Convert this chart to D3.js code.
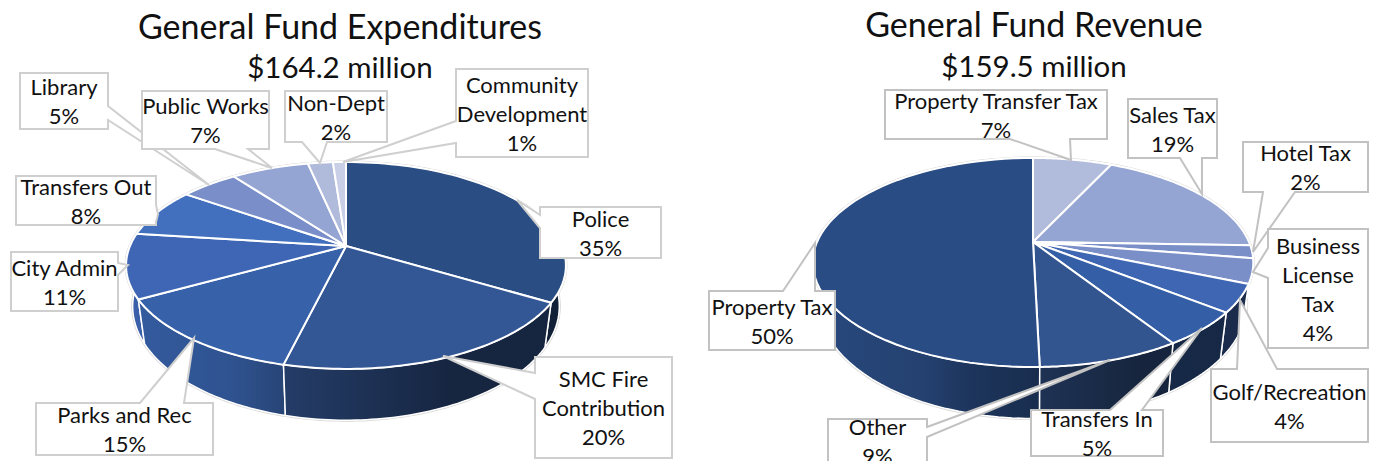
<!DOCTYPE html>
<html>
<head>
<meta charset="utf-8">
<script src="https://cdn.jsdelivr.net/npm/d3@7"></script>
<style>
  html, body { margin: 0; background: #fff; overflow: hidden; }
  text { font-family: Lato, "Open Sans", sans-serif; fill: #111; }
</style>
</head>
<body>
<svg id="chart" width="1376" height="461"></svg>
<script>
const expNames = ["Police", "SMC Fire|Contribution", "Parks and Rec", "City Admin", "Transfers Out", "Library", "Public Works", "Non-Dept", "Community|Development"];
const expShares = [33.6, 20.2, 13.1, 10.1, 7.7, 5.1, 6.85, 2.2, 1.15];
const expPercents = [35, 20, 15, 11, 8, 5, 7, 2, 1];

const revNames = ["Property Transfer Tax", "Sales Tax", "Hotel Tax", "Business|License|Tax", "Golf/Recreation", "Transfers In", "Other", "Property Tax"];
const revShares = [7, 18.5, 2, 3.8, 4.3, 5.3, 8.7, 50.4];
const revPercents = [7, 19, 2, 4, 4, 5, 9, 50];

// layout and colours, kept apart from the values
const expColors = ["#2a4d84", "#335695", "#3761a8", "#3e66b4", "#4270be", "#7a8fc9", "#94a5d4", "#b0bbdc", "#c8cfe6"];
const revColors = ["#b1bbdc", "#94a5d4", "#7a8fc8", "#7a8fc8", "#3e66b2", "#345fa6", "#33558f", "#2a4c84"];

// box: x0,y0,x1,y1 / base: two points on the box edge / tip: where the pointer lands
const expBoxes = [
  { box: [540, 207, 661, 258], base: [[540, 228], [540, 215]], side: "left", tip: [517, 200] },
  { box: [535, 357, 672, 458], base: [[535, 399], [535, 373]], side: "left", tip: [443, 356] },
  { box: [36, 403, 213, 455], base: [[140, 403], [184, 403]], side: "top", tip: [194, 338] },
  { box: [11, 252, 118, 311], base: [[118, 263], [118, 275]], side: "right", tip: [128, 265] },
  { box: [16, 176, 156, 225], base: [[156, 205], [156, 222]], side: "right", tip: [158, 214] },
  { box: [20, 73, 108, 129], base: [[108, 106], [108, 120]], side: "right", tip: [209, 185] },
  { box: [142, 91, 269, 149], base: [[248, 149], [215, 149]], side: "bottom", tip: [272, 168] },
  { box: [285, 91, 387, 142], base: [[327, 142], [302, 142]], side: "bottom", tip: [320, 163] },
  { box: [456, 69, 588, 157], base: [[456, 143], [456, 121]], side: "left", tip: [343, 162] }
];
const revBoxes = [
  { box: [885, 90, 1107, 139], base: [[1070, 139], [1010, 139]], side: "bottom", tip: [1071, 160] },
  { box: [1128, 99, 1217, 158], base: [[1202, 158], [1180, 158]], side: "bottom", tip: [1202, 194] },
  { box: [1243, 142, 1368, 192], base: [[1295, 192], [1263, 192]], side: "bottom", tip: [1253, 252] },
  { box: [1268, 229, 1368, 348], base: [[1268, 278], [1268, 248]], side: "left", tip: [1253, 272] },
  { box: [1211, 369, 1368, 442], base: [[1237, 369], [1277, 369]], side: "top", tip: [1240, 300] },
  { box: [1031, 410, 1163, 456], base: [[1110, 410], [1142, 410]], side: "top", tip: [1202, 328] },
  { box: [828, 419, 927, 463], base: [[927, 427], [927, 437]], side: "right", tip: [1110, 360] },
  { box: [709, 291, 835, 350], base: [[783, 291], [815, 291]], side: "top", tip: [815, 243] }
];

const svg = d3.select("#chart");
const defs = svg.append("defs");

const pie = d3.pie().sort(null).value(d => d);
const pathLine = d3.line();

// wall brightness from the left edge of the pie to the right
const shade = d3.scaleLinear()
  .domain([0, .25, .36, .5, .75, 1])
  .range([.95, .85, .7, .6, .43, .42]);

function drawPie(opt) {
  const { id, cx, cy, A, B, k, names, shares, percents, colors, boxes, stroke } = opt;

  // perspective view of a flat disc, the apex sits above the middle of the ellipse
  const project = (a, sx = 1, sy = 1, dy = 0) => {
    const u = Math.sin(a), v = Math.cos(a), w = 1 + k * v;
    return [cx + sx * A * u / w, cy + dy - sy * B * v / w];
  };
  const top = a => project(a);
  const bottom = a => project(a, .97, 1.1, 39);

  const arcs = pie(shares);
  const sweep = d => d3.range(0, 1.0001, 1 / 60).map(t => d.startAngle + t * (d.endAngle - d.startAngle));

  const left = cx - A * 1.02, right = cx + A * 1.02;

  arcs.forEach((d, i) => {
    const grad = defs.append("linearGradient")
      .attr("id", `${id}-wall-${i}`)
      .attr("gradientUnits", "userSpaceOnUse")
      .attr("x1", left).attr("x2", right).attr("y1", 0).attr("y2", 0);
    shade.domain().forEach(t => {
      grad.append("stop")
        .attr("offset", t)
        .attr("stop-color", d3.rgb(colors[i]).darker(Math.log(shade(t)) / Math.log(.7)));
    });
  });

  const g = svg.append("g");

  // faint halo round the whole solid
  const whole = d3.range(0, 2 * Math.PI, .02);
  g.append("path")
    .attr("d", pathLine(whole.map(top)) + "Z")
    .attr("fill", "none").attr("stroke", "#d8d8d8").attr("stroke-width", 3);
  g.append("path")
    .attr("d", pathLine(whole.map(bottom)) + "Z")
    .attr("fill", "none").attr("stroke", "#d8d8d8").attr("stroke-width", 3);

  // side walls, far ones first
  const order = d3.range(arcs.length).sort((a, b) =>
    top((arcs[a].startAngle + arcs[a].endAngle) / 2)[1] - top((arcs[b].startAngle + arcs[b].endAngle) / 2)[1]);

  order.forEach(i => {
    const angles = sweep(arcs[i]);
    g.append("path")
      .attr("d", pathLine(angles.map(top).concat(angles.slice().reverse().map(bottom))) + "Z")
      .attr("fill", `url(#${id}-wall-${i})`)
      .attr("stroke", "#fff").attr("stroke-width", 1.5)
      .attr("stroke-linejoin", "round");
  });

  // top faces
  arcs.forEach((d, i) => {
    g.append("path")
      .attr("d", pathLine([[cx, cy]].concat(sweep(d).map(top))) + "Z")
      .attr("fill", colors[i])
      .attr("stroke", "#fff").attr("stroke-width", 2)
      .attr("stroke-linejoin", "round");
  });

  // callouts
  boxes.forEach((b, i) => {
    const [x0, y0, x1, y1] = b.box;
    const [p, q] = b.base;
    let pts;
    if (b.side === "top") pts = [[x0, y0], p, b.tip, q, [x1, y0], [x1, y1], [x0, y1]];
    if (b.side === "right") pts = [[x0, y0], [x1, y0], p, b.tip, q, [x1, y1], [x0, y1]];
    if (b.side === "bottom") pts = [[x0, y0], [x1, y0], [x1, y1], p, b.tip, q, [x0, y1]];
    if (b.side === "left") pts = [[x0, y0], [x1, y0], [x1, y1], [x0, y1], p, b.tip, q];

    g.append("path")
      .attr("d", pathLine(pts) + "Z")
      .attr("fill", "#fff")
      .attr("stroke", stroke).attr("stroke-width", 2);

    const lines = names[i].split("|").concat(percents[i] + "%");
    const lineH = 29;
    const midY = (y0 + y1) / 2 + 1;
    const startY = midY - (lines.length - 1) * lineH / 2;

    lines.forEach((t, j) => {
      g.append("text")
        .attr("x", (x0 + x1) / 2)
        .attr("y", startY + j * lineH)
        .attr("dy", ".36em")
        .attr("text-anchor", "middle")
        .attr("font-size", 22)
        .text(t);
    });
  });
}

drawPie({ id: "exp", cx: 346, cy: 246, A: 216, B: 99.8, k: .188, names: expNames, shares: expShares, percents: expPercents, colors: expColors, boxes: expBoxes, stroke: "#cfcfcf" });
drawPie({ id: "rev", cx: 1033, cy: 242, A: 216, B: 100.5, k: .196, names: revNames, shares: revShares, percents: revPercents, colors: revColors, boxes: revBoxes, stroke: "#c2c2c2" });

const titles = [
  { text: "General Fund Expenditures", x: 340, y: 39, size: 34 },
  { text: "$164.2 million", x: 340, y: 78, size: 29.5 },
  { text: "General Fund Revenue", x: 1034, y: 37, size: 34 },
  { text: "$159.5 million", x: 1034, y: 77, size: 29.5 }
];

svg.selectAll("text.title")
  .data(titles)
  .join("text")
  .attr("class", "title")
  .attr("x", d => d.x)
  .attr("y", d => d.y)
  .attr("text-anchor", "middle")
  .attr("font-size", d => d.size)
  .text(d => d.text);
</script>
</body>
</html>
